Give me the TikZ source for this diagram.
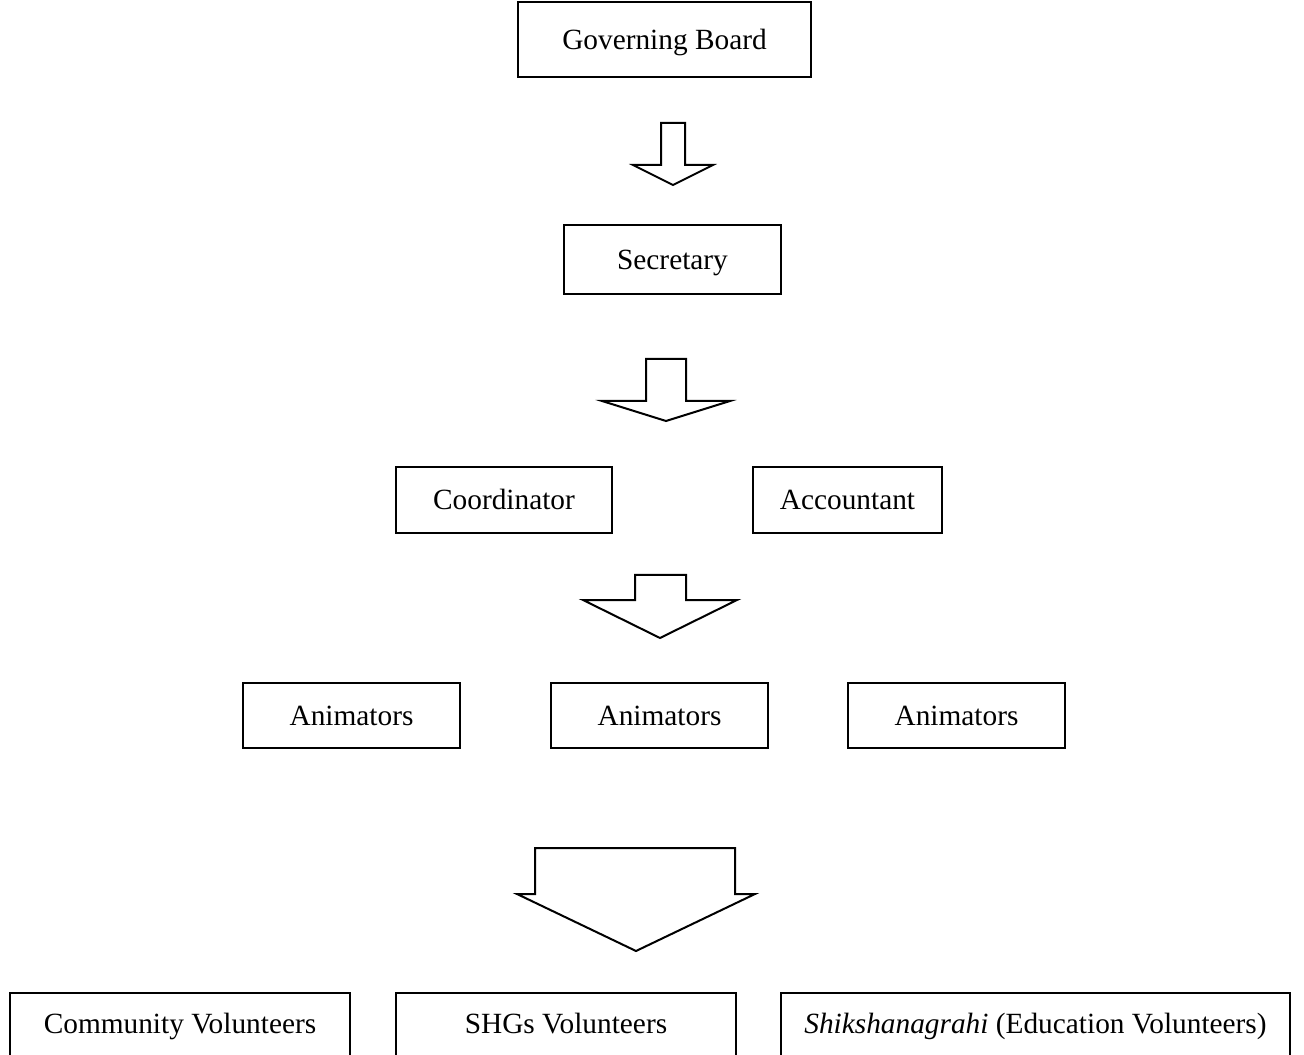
\documentclass[tikz,border=0pt]{standalone}
\usepackage{fontspec}
\setmainfont{Liberation Serif}
\tikzset{every picture/.style={line width=1.5pt}}
\tikzset{orgbox/.style={draw, rectangle, inner sep=0pt, text height=15pt, text depth=0pt, font=\fontsize{22}{26}\selectfont}}

\begin{document}
\begin{tikzpicture}[x=0.75pt,y=0.75pt,yscale=-1,xscale=1]
\useasboundingbox (0,0) rectangle (1304,1055);

% Boxes
\node[orgbox, minimum width=293*0.75pt, minimum height=75*0.75pt] (board) at (664.5,39.5) {Governing Board};
\node[orgbox, minimum width=217*0.75pt, minimum height=69*0.75pt] (secretary) at (672.5,259.5) {Secretary};
\node[orgbox, minimum width=216*0.75pt, minimum height=66*0.75pt] (coord) at (504,500) {Coordinator};
\node[orgbox, minimum width=189*0.75pt, minimum height=66*0.75pt] (accountant) at (847.5,500) {Accountant};
\node[orgbox, minimum width=217*0.75pt, minimum height=65*0.75pt] (animA) at (351.5,715.5) {Animators};
\node[orgbox, minimum width=217*0.75pt, minimum height=65*0.75pt] (animB) at (659.5,715.5) {Animators};
\node[orgbox, minimum width=217*0.75pt, minimum height=65*0.75pt] (animC) at (956.5,715.5) {Animators};
\node[orgbox, text depth=4.5pt, minimum width=340*0.75pt, minimum height=66*0.75pt] (community) at (180,1026) {Community Volunteers};
\node[orgbox, text depth=4.5pt, minimum width=340*0.75pt, minimum height=66*0.75pt] (shg) at (566,1026) {SHGs Volunteers};
\node[orgbox, text depth=4.5pt, minimum width=509*0.75pt, minimum height=66*0.75pt] (shiksha) at (1035.5,1026) {\textit{Shikshanagrahi} (Education Volunteers)};

% Block arrow
\draw (661,123) -- (685,123) -- (685,165) -- (713,165) -- (673,185) -- (633,165) -- (661,165) -- cycle;
% Block arrow
\draw (646,359) -- (686,359) -- (686,401) -- (730,401) -- (666,421) -- (602,401) -- (646,401) -- cycle;
% Block arrow
\draw (635,575) -- (686,575) -- (686,600) -- (737,600) -- (660,638) -- (583,600) -- (635,600) -- cycle;
% Block arrow
\draw (535,848) -- (735,848) -- (735,894) -- (755,894) -- (636,951) -- (517,894) -- (535,894) -- cycle;

\end{tikzpicture}
\end{document}
